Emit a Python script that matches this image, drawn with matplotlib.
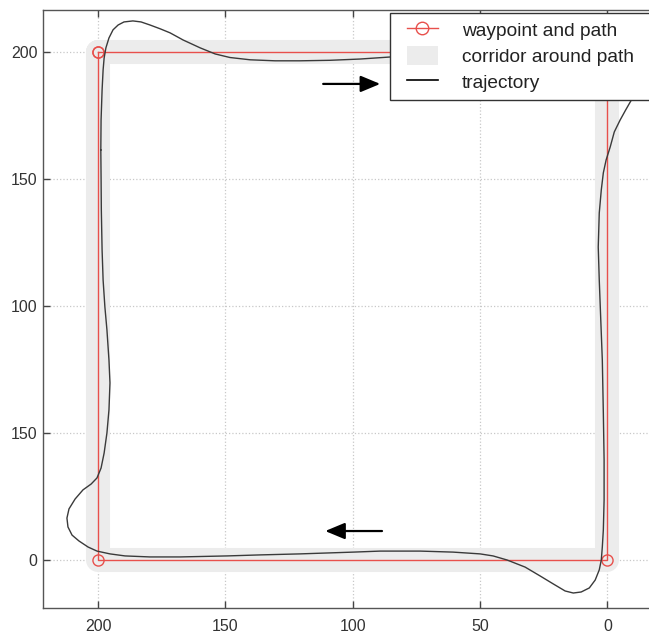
import matplotlib.pyplot as plt
from matplotlib.lines import Line2D
from matplotlib.patches import Patch, Rectangle

plt.rcParams['font.family'] = ['Liberation Sans', 'DejaVu Sans']

# waypoints of the square path (closed)
wp_x = [200, 0, 0, 200, 200]
wp_y = [200, 200, 0, 0, 200]

# trajectory (closed loop, clockwise on screen)
traj_x = [198.9, 198.8, 198.4, 198.0, 197.6, 196.9, 195.7, 194.1, 192.1, 189.8, 186.3,
          183.1, 179.6, 175.6, 171.7, 166.6, 159.9, 154.0, 148.2, 140.3, 130.5, 120.7,
          108.9, 97.1, 85.3, 69.6, 50.0, 30.3, 14.6, 4.8, -3.1, -8.2, -11.3, -12.6,
          -11.2, -9.2, -7.2, -5.0, -2.7, -1.1, 0.5, 1.6, 2.4, 3.2, 3.6, 3.2, 2.8, 2.0,
          1.6, 1.3, 1.3, 1.6, 2.0, 2.4, 3.2, 4.8, 7.1, 10.3, 13.4, 16.6, 21.3, 26.4,
          32.3, 39.4, 44.9, 50.0, 60.6, 73.5, 89.2, 99.8, 120.7, 136.4, 149.3, 167.8,
          179.6, 189.4, 195.3, 200.4, 203.9, 207.5, 210.2, 211.8, 212.2, 211.4, 209.0,
          205.9, 202.7, 200.4, 198.8, 197.6, 196.5, 195.7, 195.3, 195.7, 196.5, 197.3,
          198.0, 198.4, 198.7, 198.8, 198.9]
traj_y = [161.4, 173.2, 185.0, 192.9, 197.6, 201.6, 205.5, 208.7, 210.6, 211.8, 212.2,
          211.8, 210.6, 209.1, 207.5, 204.7, 201.6, 199.2, 197.8, 196.9, 196.5, 196.5,
          196.7, 197.2, 198.0, 198.6, 199.0, 199.0, 198.4, 197.2, 196.1, 193.7, 190.2,
          187.0, 184.0, 180.7, 177.2, 173.2, 168.5, 162.6, 157.5, 152.4, 145.7, 136.6,
          123.2, 110.2, 99.6, 78.7, 57.9, 39.4, 23.6, 11.8, 5.1, 0.0, -3.9, -7.9, -11.0,
          -12.6, -13.0, -12.2, -9.4, -6.3, -2.8, 0.0, 1.6, 2.4, 3.1, 3.5, 3.5, 3.1, 2.4,
          2.0, 1.6, 1.2, 1.2, 1.6, 2.4, 3.5, 5.1, 7.5, 9.8, 13.0, 16.5, 20.1, 24.0, 27.6,
          29.9, 32.3, 36.2, 42.1, 50.0, 59.1, 69.7, 78.7, 90.6, 99.6, 110.2, 122.0,
          137.8, 150.8, 161.4]

# direction arrows (start, end)
arrow_top = [(111.6, 187.4), (89.2, 187.4)]
arrow_bot = [(88.5, 11.4), (110.8, 11.4)]

yticks = [0, 50, 100, 150, 200]
ytick_labels = ['0', '150', '100', '150', '200']
xticks = [200, 150, 100, 50, 0]

red = '#e8504c'
corridor = '#ececec'

fig = plt.figure(figsize=(6.49, 6.34), dpi=100)
ax = fig.add_axes([43 / 649, 1 - 608 / 634, (653 - 43) / 649, 598 / 634])

# corridor: thick line with round joins
ax.plot(wp_x, wp_y, color=corridor, lw=17.3, solid_joinstyle='round',
        solid_capstyle='round', zorder=1)
ax.plot(wp_x, wp_y, color=red, lw=1.0, marker='o', mfc='none', mec=red,
        ms=8, mew=1.0, zorder=3)
ax.plot(traj_x, traj_y, color='#3a3a3a', lw=1.0, solid_joinstyle='round', zorder=4)

for (x0, y0), (x1, y1) in [arrow_top, arrow_bot]:
    ax.annotate('', xy=(x1, y1), xytext=(x0, y0),
                arrowprops=dict(arrowstyle='-|>,head_length=0.6,head_width=0.25',
                                color='black', lw=1.6, mutation_scale=20,
                                shrinkA=0, shrinkB=0), zorder=5)

ax.set_xlim(221.6, -17.9)
ax.set_ylim(-18.9, 216.5)
ax.set_xticks(xticks)
ax.set_xticklabels([str(v) for v in xticks])
ax.set_yticks(yticks)
ax.set_yticklabels(ytick_labels)
ax.grid(True, linestyle=':', color='#c8c8c8', lw=0.9)
ax.set_axisbelow(True)
ax.tick_params(direction='in', length=5, width=1, color='#444444',
               labelsize=11.5, labelcolor='#333333', top=True, right=False)
ax.tick_params(axis='x', pad=8)
ax.tick_params(axis='y', pad=4)
for s in ax.spines.values():
    s.set_color('#555555')
    s.set_linewidth(1.0)

# legend box runs off the right edge like in the source picture
box = Rectangle((390 / 649, 1 - 100 / 634), 270 / 649, 87 / 634,
                transform=fig.transFigure, facecolor='white',
                edgecolor='#333333', lw=1.0, zorder=4)
fig.patches.append(box)

handles = [Line2D([], [], color=red, lw=1.0, marker='o', mfc='none', mec=red, ms=9),
           Patch(facecolor=corridor, edgecolor='none'),
           Line2D([], [], color='black', lw=1.2)]
labels = ['waypoint and path', 'corridor around path', 'trajectory']
leg = fig.legend(handles, labels, loc='upper left',
                 bbox_to_anchor=(407 / 649, 1 - 19.5 / 634), borderaxespad=0,
                 frameon=False, fontsize=13.8, handlelength=1.6,
                 handleheight=1.2, handletextpad=1.25,
                 labelspacing=0.3, borderpad=0)
leg.set_zorder(6)
for t in leg.get_texts():
    t.set_color('#222222')

fig.savefig('out.png', dpi=100)
